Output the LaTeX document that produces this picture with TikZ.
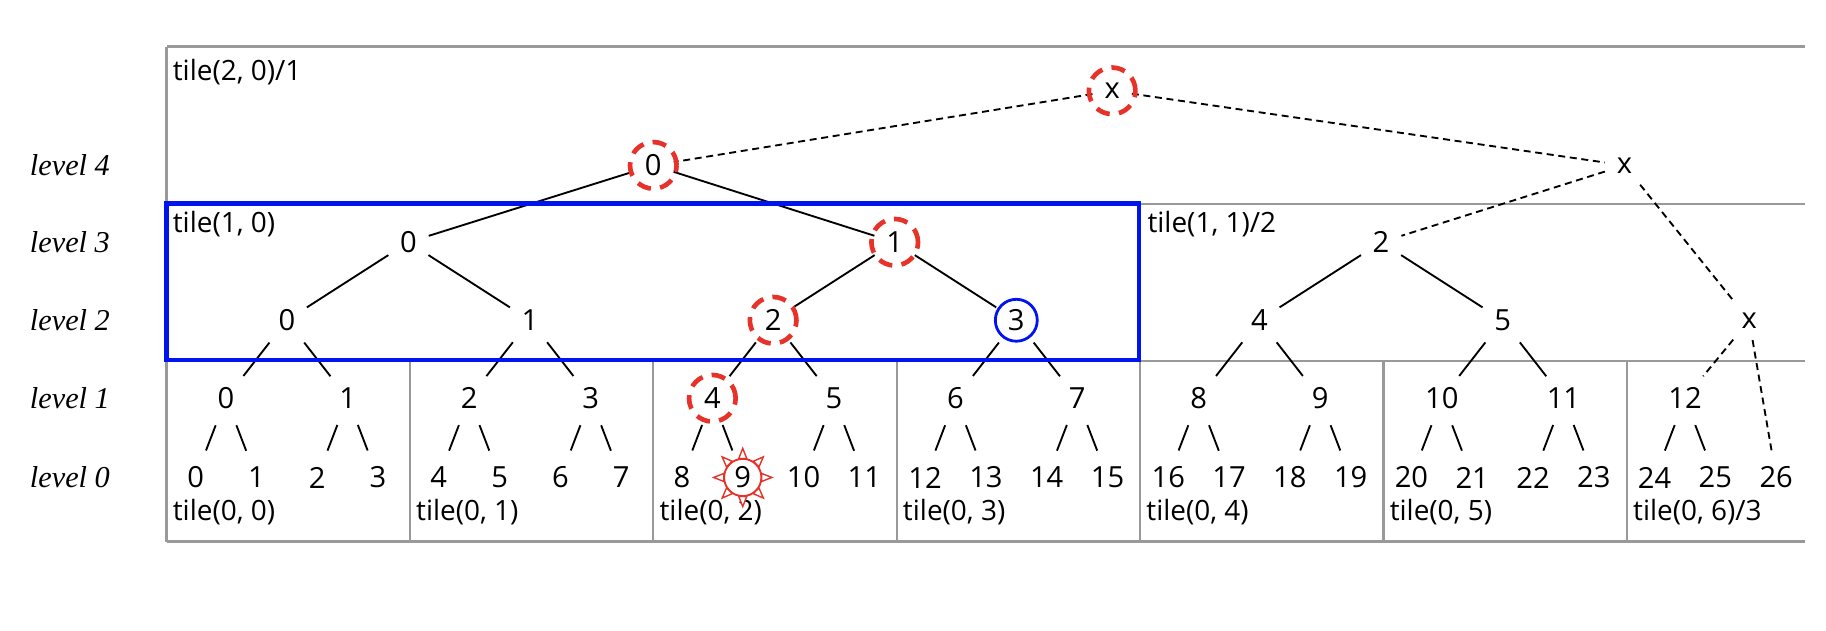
\documentclass[tikz,border=0pt]{standalone}
\usepackage{fontspec}
\setmainfont{Open Sans}
\newfontfamily\lvlfont{Liberation Serif}
\usetikzlibrary{positioning,calc}
\definecolor{hlred}{RGB}{230,50,40}
\definecolor{hlblue}{RGB}{0,20,240}
\tikzset{
  num/.style={inner sep=4pt, font=\fontsize{12.5}{14}\selectfont},
  tree/.style={line width=0.8pt, shorten >=1pt, shorten <=1pt},
  slash/.style={line width=0.8pt, shorten >=3pt, shorten <=3pt},
  lazy/.style={tree, dash pattern=on 3pt off 2pt},
  grid/.style={draw=gray!80, line width=1pt},
  tilelbl/.style={anchor=west, inner sep=0pt, font=\fontsize{12}{14}\selectfont},
  lvl/.style={font=\lvlfont\itshape\fontsize{13}{15}\selectfont},
  hot/.style={draw=hlred, line width=2pt, dash pattern=on 6pt off 4pt},
}
\begin{document}
\begin{tikzpicture}[x=0.5pt, y=-0.5pt]
\useasboundingbox (0,0) rectangle (1568,541);
% grid lines
\draw[grid] (143,40) -- (1550,40);
\draw[grid] (979,175) -- (1550,175);
\draw[grid] (143,310) -- (1550,310);
\draw[grid] (143,465) -- (1550,465);
\draw[grid] (143,40) -- (143,465);
\foreach \xx in {352,561,770,979,1188,1397}
  \draw[grid] (\xx,310) -- (\xx,465);
% level labels
\foreach \lv/\yy in {4/142,3/208,2/275,1/342,0/410}
  \node[lvl] (lvl\lv) at (60,\yy) {level \lv};
% nodes
\foreach \i in {0,...,26}
  \node[num] (l0n\i) at ({168+52.2*\i},410) {\i};
\foreach \i in {0,...,12}
  \node[num] (l1n\i) at ({168+52.2*(2*\i+0.5)},342) {\i};
\foreach \i in {0,...,5}
  \node[num] (l2n\i) at ({168+52.2*(4*\i+1.5)},275) {\i};
\foreach \i in {0,1,2}
  \node[num] (l3n\i) at ({168+52.2*(8*\i+3.5)},208) {\i};
\node[num] (l2x) at (1502,275) {x};
\node[num] (l4n0) at (561,142) {0};
\node[num] (l4x) at (1395,142) {x};
\node[num] (topx) at (955,78) {x};
% edges
\foreach \i in {0,...,11} {
  \pgfmathtruncatemacro\ca{2*\i}
  \pgfmathtruncatemacro\cb{2*\i+1}
  \draw[slash] (l1n\i) -- (l0n\ca);
  \draw[slash] (l1n\i) -- (l0n\cb);
}
\draw[slash] (l1n12) -- (l0n24);
\draw[slash] (l1n12) -- (l0n25);
\foreach \i in {0,...,5} {
  \pgfmathtruncatemacro\ca{2*\i}
  \pgfmathtruncatemacro\cb{2*\i+1}
  \draw[tree] (l2n\i) -- (l1n\ca);
  \draw[tree] (l2n\i) -- (l1n\cb);
}
\foreach \i in {0,1,2} {
  \pgfmathtruncatemacro\ca{2*\i}
  \pgfmathtruncatemacro\cb{2*\i+1}
  \draw[tree] (l3n\i) -- (l2n\ca);
  \draw[tree] (l3n\i) -- (l2n\cb);
}
\draw[tree] (l4n0) -- (l3n0);
\draw[tree] (l4n0) -- (l3n1);
\draw[lazy] (topx) -- (l4n0);
\draw[lazy] (topx) -- (l4x);
\draw[lazy] (l4x) -- (l3n2);
\draw[lazy] (l4x) -- (l2x);
\draw[lazy] (l2x) -- (l1n12);
\draw[lazy] (l2x) -- (l0n26);
% tile labels
\foreach \i in {0,...,5}
  \node[tilelbl] (tile\i) at ({148+209*\i},440) {tile(0, \i)};
\node[tilelbl] (tile6) at (1402,440) {tile(0, 6)/3};
\node[tilelbl] (tileA) at (148,62) {tile(2, 0)/1};
\node[tilelbl] (tileB) at (148,192) {tile(1, 0)};
\node[tilelbl] (tileC) at (985,192) {tile(1, 1)/2};
% highlights
\draw[hlblue, line width=2pt] (143,175) rectangle (978,309);
\draw[hlblue, line width=1.2pt] (l2n3) circle (9pt);
\foreach \n in {topx,l4n0,l3n1,l2n2,l1n4}
  \draw[hot] (\n) circle (10pt);
\draw[hlred, line width=0.8pt] (l0n9) circle (8pt);
\foreach \a in {0,45,...,315}
  \draw[hlred, line width=0.6pt, fill=white]
    ($(l0n9)+(\a-12:8.3pt)$) -- ($(l0n9)+(\a:12.5pt)$) -- ($(l0n9)+(\a+12:8.3pt)$) -- cycle;
\end{tikzpicture}
\end{document}
